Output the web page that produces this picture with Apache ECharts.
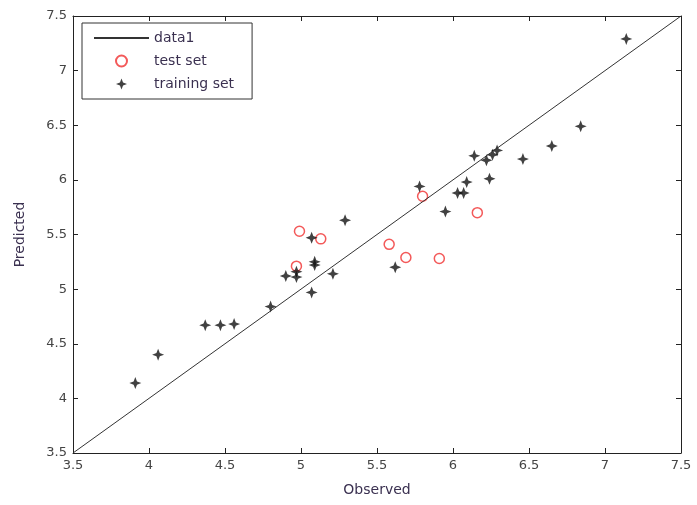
<!DOCTYPE html>
<html lang="en">
  <head>
    <meta charset="UTF-8" />
    <title>Observed vs Predicted</title>
    <script src="https://cdn.jsdelivr.net/npm/echarts@6.0.0/dist/echarts.min.js"></script>
  </head>
  <body style="margin: 0">
    <div id="main" style="width: 697px; height: 505px"></div>
    <script type="text/javascript">
      var chart = echarts.init(document.getElementById("main"));

      // data
      var lineData = [[3.5, 3.5], [7.5, 7.5]];
      var testSet = [
        [4.99, 5.53], [5.13, 5.46], [4.97, 5.21], [5.58, 5.41],
        [5.69, 5.29], [5.8, 5.85], [5.91, 5.28], [6.16, 5.7]
      ];
      var trainingSet = [
        [3.91, 4.14], [4.06, 4.4], [4.37, 4.67], [4.47, 4.67], [4.56, 4.68],
        [4.8, 4.84], [4.9, 5.12], [4.97, 5.16], [4.97, 5.11], [5.07, 5.47],
        [5.09, 5.25], [5.09, 5.22], [5.07, 4.97], [5.21, 5.14], [5.29, 5.63],
        [5.62, 5.2], [5.78, 5.94], [5.95, 5.71], [6.03, 5.88], [6.07, 5.88],
        [6.09, 5.98], [6.24, 6.01], [6.14, 6.22], [6.22, 6.18], [6.26, 6.23],
        [6.29, 6.27], [6.46, 6.19], [6.65, 6.31], [6.84, 6.49], [7.14, 7.29]
      ];

      var star = "path://M0,-10 L2.8,-2.8 L10,0 L2.8,2.8 L0,10 L-2.8,2.8 L-10,0 L-2.8,-2.8 Z";
      var font = "DejaVu Sans";

      function axis(pos, name, showLabel) {
        return {
          type: "value",
          position: pos,
          min: 3.5,
          max: 7.5,
          interval: 0.5,
          name: name,
          nameLocation: "middle",
          nameGap: pos === "bottom" ? 30 : 46,
          nameTextStyle: { color: "#3a3050", fontSize: 14, fontFamily: font },
          axisLine: { show: true, onZero: false, lineStyle: { color: "#222", width: 1 } },
          axisTick: { show: true, inside: true, length: 5, lineStyle: { color: "#222" } },
          axisLabel: { show: showLabel, margin: 6, color: "#444", fontSize: 13, fontFamily: font },
          splitLine: { show: false }
        };
      }

      var option = {
        animation: false,
        backgroundColor: "#fff",
        grid: { left: 73, right: 16, top: 16, bottom: 52 },
        legend: {
          orient: "vertical",
          left: 82,
          top: 23,
          padding: [8, 18, 8, 11],
          itemGap: 9,
          itemWidth: 55,
          itemHeight: 11,
          borderColor: "#333",
          borderWidth: 1,
          textStyle: { color: "#3a3050", fontSize: 14, fontFamily: font },
          data: [
            { name: "data1", itemStyle: { opacity: 0 } },
            { name: "test set" },
            { name: "training set" }
          ]
        },
        xAxis: [axis("bottom", "Observed", true), axis("top", "", false)],
        yAxis: [axis("left", "Predicted", true), axis("right", "", false)],
        series: [
          {
            name: "data1",
            type: "line",
            data: lineData,
            symbol: "none",
            lineStyle: { color: "#333", width: 1 },
            itemStyle: { color: "#333" }
          },
          {
            name: "test set",
            type: "scatter",
            data: testSet,
            symbol: "circle",
            symbolSize: 10,
            itemStyle: { color: "#fff", borderColor: "#f03030", borderWidth: 1.5 }
          },
          {
            name: "training set",
            type: "scatter",
            data: trainingSet,
            symbol: star,
            symbolSize: 12,
            itemStyle: { color: "#111" }
          }
        ]
      };
      chart.setOption(option);
    </script>
  </body>
</html>
